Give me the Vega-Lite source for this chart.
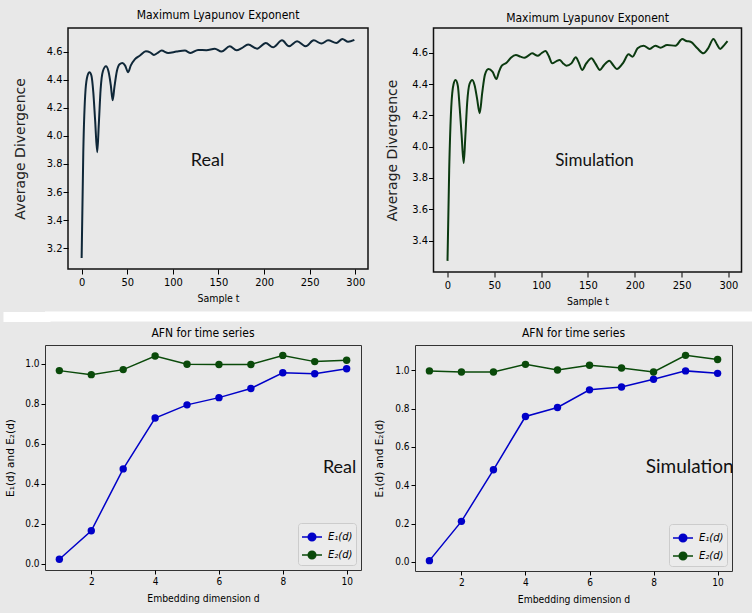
{
  "$schema": "https://vega.github.io/schema/vega-lite/v6.json",
  "background": "#e8e8e8",
  "padding": {"left": 0, "top": 8, "right": 8, "bottom": 12},
  "datasets": {
    "real": [
      {"t": 0, "v": 3.13}, {"t": 1.8, "v": 3.88}, {"t": 4.3, "v": 4.33}, {"t": 6.5, "v": 4.43}, {"t": 8.6, "v": 4.453},
      {"t": 10.7, "v": 4.43}, {"t": 12.8, "v": 4.31}, {"t": 14.8, "v": 4.11}, {"t": 17.1, "v": 3.883}, {"t": 18.8, "v": 4.08},
      {"t": 20.8, "v": 4.33}, {"t": 23.3, "v": 4.46}, {"t": 26.7, "v": 4.495}, {"t": 29.4, "v": 4.46}, {"t": 32, "v": 4.36},
      {"t": 34, "v": 4.253}, {"t": 36, "v": 4.35}, {"t": 38.6, "v": 4.46}, {"t": 41.6, "v": 4.51}, {"t": 44.6, "v": 4.519},
      {"t": 47.7, "v": 4.5}, {"t": 51, "v": 4.453}, {"t": 53.8, "v": 4.5}, {"t": 58.5, "v": 4.547}, {"t": 64, "v": 4.572},
      {"t": 70.4, "v": 4.602}, {"t": 75, "v": 4.595}, {"t": 79.2, "v": 4.576}, {"t": 83.2, "v": 4.59}, {"t": 87.6, "v": 4.607},
      {"t": 94.9, "v": 4.59}, {"t": 104, "v": 4.6}, {"t": 113.2, "v": 4.607}, {"t": 119.4, "v": 4.59}, {"t": 127.7, "v": 4.612},
      {"t": 136.8, "v": 4.61}, {"t": 146, "v": 4.62}, {"t": 153.3, "v": 4.6}, {"t": 162.4, "v": 4.638}, {"t": 169.8, "v": 4.61},
      {"t": 175.6, "v": 4.625}, {"t": 182.6, "v": 4.65}, {"t": 192.4, "v": 4.621}, {"t": 201.9, "v": 4.661}, {"t": 209.9, "v": 4.631},
      {"t": 219.7, "v": 4.68}, {"t": 227.4, "v": 4.638}, {"t": 236.2, "v": 4.673}, {"t": 245.6, "v": 4.638}, {"t": 254.5, "v": 4.68},
      {"t": 262.9, "v": 4.657}, {"t": 270.2, "v": 4.68}, {"t": 279.3, "v": 4.661}, {"t": 285.9, "v": 4.69}, {"t": 292.1, "v": 4.67},
      {"t": 299, "v": 4.683}
    ],
    "sim": [
      {"t": 0, "v": 3.27}, {"t": 1.8, "v": 3.85}, {"t": 4, "v": 4.25}, {"t": 6.5, "v": 4.4}, {"t": 8.6, "v": 4.426},
      {"t": 11, "v": 4.39}, {"t": 13, "v": 4.25}, {"t": 15, "v": 4.08}, {"t": 17.3, "v": 3.895}, {"t": 19, "v": 4.06},
      {"t": 21, "v": 4.28}, {"t": 23.5, "v": 4.4}, {"t": 26.5, "v": 4.426}, {"t": 29, "v": 4.39}, {"t": 31.5, "v": 4.31},
      {"t": 34.4, "v": 4.214}, {"t": 37, "v": 4.34}, {"t": 40, "v": 4.46}, {"t": 43.7, "v": 4.496}, {"t": 48, "v": 4.479},
      {"t": 52.3, "v": 4.432}, {"t": 55, "v": 4.48}, {"t": 58, "v": 4.517}, {"t": 63, "v": 4.536}, {"t": 67.7, "v": 4.568},
      {"t": 73, "v": 4.585}, {"t": 78, "v": 4.575}, {"t": 82, "v": 4.568}, {"t": 86, "v": 4.58}, {"t": 90.3, "v": 4.596},
      {"t": 96.4, "v": 4.581}, {"t": 100, "v": 4.595}, {"t": 104.7, "v": 4.611}, {"t": 108, "v": 4.58}, {"t": 111.9, "v": 4.532},
      {"t": 116, "v": 4.545}, {"t": 119.8, "v": 4.553}, {"t": 123, "v": 4.535}, {"t": 126.9, "v": 4.517}, {"t": 132.3, "v": 4.532},
      {"t": 137, "v": 4.571}, {"t": 140, "v": 4.54}, {"t": 143.8, "v": 4.49}, {"t": 148, "v": 4.53}, {"t": 153.8, "v": 4.564},
      {"t": 158, "v": 4.53}, {"t": 162.8, "v": 4.49}, {"t": 167, "v": 4.52}, {"t": 172.8, "v": 4.549}, {"t": 177, "v": 4.52},
      {"t": 180.7, "v": 4.496}, {"t": 187.9, "v": 4.539}, {"t": 193.3, "v": 4.59}, {"t": 197.6, "v": 4.575}, {"t": 203, "v": 4.628},
      {"t": 209.4, "v": 4.645}, {"t": 215.9, "v": 4.624}, {"t": 222, "v": 4.645}, {"t": 227.4, "v": 4.632}, {"t": 234.5, "v": 4.649},
      {"t": 243.5, "v": 4.645}, {"t": 250.7, "v": 4.687}, {"t": 255, "v": 4.675}, {"t": 259.6, "v": 4.67}, {"t": 266.8, "v": 4.628},
      {"t": 273.3, "v": 4.596}, {"t": 278.3, "v": 4.628}, {"t": 284, "v": 4.687}, {"t": 288, "v": 4.65}, {"t": 291.2, "v": 4.624},
      {"t": 295.5, "v": 4.649}, {"t": 299, "v": 4.674}
    ],
    "afn_real": [
      {"d": 1, "series": "E₁(d)", "value": 0.023}, {"d": 2, "series": "E₁(d)", "value": 0.165}, {"d": 3, "series": "E₁(d)", "value": 0.474},
      {"d": 4, "series": "E₁(d)", "value": 0.728}, {"d": 5, "series": "E₁(d)", "value": 0.794}, {"d": 6, "series": "E₁(d)", "value": 0.83},
      {"d": 7, "series": "E₁(d)", "value": 0.876}, {"d": 8, "series": "E₁(d)", "value": 0.954}, {"d": 9, "series": "E₁(d)", "value": 0.949},
      {"d": 10, "series": "E₁(d)", "value": 0.974},
      {"d": 1, "series": "E₂(d)", "value": 0.965}, {"d": 2, "series": "E₂(d)", "value": 0.945}, {"d": 3, "series": "E₂(d)", "value": 0.97},
      {"d": 4, "series": "E₂(d)", "value": 1.038}, {"d": 5, "series": "E₂(d)", "value": 0.997}, {"d": 6, "series": "E₂(d)", "value": 0.996},
      {"d": 7, "series": "E₂(d)", "value": 0.996}, {"d": 8, "series": "E₂(d)", "value": 1.041}, {"d": 9, "series": "E₂(d)", "value": 1.01},
      {"d": 10, "series": "E₂(d)", "value": 1.017}
    ],
    "afn_sim": [
      {"d": 1, "series": "E₁(d)", "value": 0.007}, {"d": 2, "series": "E₁(d)", "value": 0.212}, {"d": 3, "series": "E₁(d)", "value": 0.481},
      {"d": 4, "series": "E₁(d)", "value": 0.759}, {"d": 5, "series": "E₁(d)", "value": 0.806}, {"d": 6, "series": "E₁(d)", "value": 0.898},
      {"d": 7, "series": "E₁(d)", "value": 0.913}, {"d": 8, "series": "E₁(d)", "value": 0.953}, {"d": 9, "series": "E₁(d)", "value": 0.997},
      {"d": 10, "series": "E₁(d)", "value": 0.984},
      {"d": 1, "series": "E₂(d)", "value": 0.997}, {"d": 2, "series": "E₂(d)", "value": 0.991}, {"d": 3, "series": "E₂(d)", "value": 0.991},
      {"d": 4, "series": "E₂(d)", "value": 1.031}, {"d": 5, "series": "E₂(d)", "value": 1.002}, {"d": 6, "series": "E₂(d)", "value": 1.026},
      {"d": 7, "series": "E₂(d)", "value": 1.012}, {"d": 8, "series": "E₂(d)", "value": 0.991}, {"d": 9, "series": "E₂(d)", "value": 1.078},
      {"d": 10, "series": "E₂(d)", "value": 1.056}
    ],
    "strip": [{"k": "a"}]
  },
  "spacing": 2,
  "resolve": {"scale": {"color": "independent"}, "legend": {"color": "independent"}},
  "vconcat": [
    {
      "spacing": 0.5,
      "vconcat": [
        {
          "spacing": -34,
          "hconcat": [
            {"width": 1, "height": 1, "data": {"values": []}, "mark": "point", "view": {"stroke": null, "fill": null}},
            {
              "spacing": 15.5,
              "hconcat": [
                {
                  "width": 300, "height": 241,
                  "title": {"text": "Maximum Lyapunov Exponent", "font": "DejaVu Sans Condensed", "fontSize": 12, "fontWeight": "normal", "color": "#000", "offset": 6},
                  "view": {"stroke": "#111", "strokeWidth": 1.5, "fill": "#e8e8e8"},
                  "encoding": {
                    "x": {"field": "t", "type": "quantitative", "scale": {"domain": [-14.95, 313.95], "nice": false, "zero": false},
                      "axis": {"title": "Sample t", "values": [0, 50, 100, 150, 200, 250, 300], "labelFont": "DejaVu Sans Condensed", "labelFontSize": 11, "labelPadding": 2.5, "tickSize": 5, "titleFont": "DejaVu Sans Condensed", "titleFontSize": 10.5, "titlePadding": 6}},
                    "y": {"field": "v", "type": "quantitative", "scale": {"domain": [3.052, 4.768], "nice": false, "zero": false},
                      "axis": {"title": "Average Divergence", "values": [3.2, 3.4, 3.6, 3.8, 4.0, 4.2, 4.4, 4.6], "format": ".1f", "labelFont": "DejaVu Sans Condensed", "labelFontSize": 11, "labelPadding": 1, "tickSize": 5, "titleFont": "DejaVu Sans", "titleFontSize": 14, "titlePadding": 19, "titleColor": "#222"}}
                  },
                  "layer": [
                    {
                      "data": {"name": "real"},
                      "mark": {"type": "line", "color": "#0f2738", "strokeWidth": 2, "interpolate": "monotone"}
                    },
                    {
                      "data": {"values": [{"t": 138, "v": 3.82, "label": "Real"}]},
                      "mark": {"type": "text", "font": "Lato", "fontSize": 18, "color": "#111", "align": "center", "baseline": "middle"},
                      "encoding": {"text": {"field": "label"}}
                    }
                  ]
                },
                {
                  "width": 308, "height": 244,
                  "title": {"text": "Maximum Lyapunov Exponent", "font": "DejaVu Sans Condensed", "fontSize": 12, "fontWeight": "normal", "color": "#000", "offset": 3},
                  "view": {"stroke": "#111", "strokeWidth": 1.5, "fill": "#e8e8e8"},
                  "encoding": {
                    "x": {"field": "t", "type": "quantitative", "scale": {"domain": [-14.95, 313.95], "nice": false, "zero": false},
                      "axis": {"title": "Sample t", "values": [0, 50, 100, 150, 200, 250, 300], "labelFont": "DejaVu Sans Condensed", "labelFontSize": 11, "labelPadding": 2.5, "tickSize": 5, "titleFont": "DejaVu Sans Condensed", "titleFontSize": 10.5, "titlePadding": 6}},
                    "y": {"field": "v", "type": "quantitative", "scale": {"domain": [3.199, 4.758], "nice": false, "zero": false},
                      "axis": {"title": "Average Divergence", "values": [3.4, 3.6, 3.8, 4.0, 4.2, 4.4, 4.6], "format": ".1f", "labelFont": "DejaVu Sans Condensed", "labelFontSize": 11, "labelPadding": 1, "tickSize": 5, "titleFont": "DejaVu Sans", "titleFontSize": 14, "titlePadding": 12.5, "titleColor": "#222"}}
                  },
                  "layer": [
                    {
                      "data": {"name": "sim"},
                      "mark": {"type": "line", "color": "#0b3a10", "strokeWidth": 2, "interpolate": "monotone"}
                    },
                    {
                      "data": {"values": [{"t": 157, "v": 3.91, "label": "Simulation"}]},
                      "mark": {"type": "text", "font": "Lato", "fontSize": 17, "color": "#111", "align": "center", "baseline": "middle"},
                      "encoding": {"text": {"field": "label"}}
                    }
                  ]
                }
              ]
            }
          ]
        },
        {
          "width": 760, "height": 10,
          "data": {"name": "strip"},
          "mark": {"type": "point", "opacity": 0},
          "encoding": {"y": {"field": "k", "type": "nominal", "axis": {"title": null, "labels": false, "ticks": true, "tickSize": 37, "tickWidth": 10, "tickCap": "square", "tickColor": "#ffffff", "domain": false}}},
          "view": {"stroke": null, "fill": "#ffffff"}
        }
      ]
    },
    {
      "spacing": 11,
      "resolve": {"scale": {"color": "independent"}, "legend": {"color": "independent"}},
      "hconcat": [
        {
          "width": 316, "height": 225,
          "title": {"text": "AFN for time series", "font": "DejaVu Sans Condensed", "fontSize": 12, "fontWeight": "normal", "color": "#000", "offset": 5},
          "view": {"stroke": "#333", "strokeWidth": 1, "fill": "#e8e8e8"},
          "encoding": {
            "x": {"field": "d", "type": "quantitative", "scale": {"domain": [0.55, 10.45], "nice": false, "zero": false},
              "axis": {"title": "Embedding dimension d", "values": [2, 4, 6, 8, 10], "labelFont": "DejaVu Sans Condensed", "labelFontSize": 10, "labelPadding": 2, "tickSize": 4, "titleFont": "DejaVu Sans Condensed", "titleFontSize": 10.3, "titlePadding": 7}},
            "y": {"field": "value", "type": "quantitative", "scale": {"domain": [-0.031, 1.093], "nice": false, "zero": false},
              "axis": {"title": "E₁(d) and E₂(d)", "values": [0, 0.2, 0.4, 0.6, 0.8, 1.0], "format": ".1f", "labelFont": "DejaVu Sans Condensed", "labelFontSize": 10, "labelPadding": 2, "tickSize": 4, "titleFont": "DejaVu Sans", "titleFontSize": 10.5, "titlePadding": 9.2}}
          },
          "layer": [
            {
              "data": {"name": "afn_real"},
              "encoding": {
                "color": {"field": "series", "type": "nominal", "scale": {"domain": ["E₁(d)", "E₂(d)"], "range": ["#0000c8", "#0a4a0a"]},
                  "legend": {"orient": "bottom-right", "offset": 5, "title": null, "padding": 3, "rowPadding": 0, "symbolType": "M-1,0H1M-0.38,0A0.38,0.38,0,1,0,0.38,0A0.38,0.38,0,1,0,-0.38,0", "symbolSize": 400, "symbolStrokeWidth": 1.5, "labelFont": "DejaVu Sans", "labelFontStyle": "italic", "labelFontSize": 10, "labelOffset": 5, "fillColor": "#ebebeb", "strokeColor": "#cccccc", "cornerRadius": 3,
                    "encode": {"symbols": {"update": {"fill": [{"test": "datum.value === 'E₁(d)'", "value": "#0000c8"}, {"value": "#0a4a0a"}], "stroke": [{"test": "datum.value === 'E₁(d)'", "value": "#0000c8"}, {"value": "#0a4a0a"}], "fillOpacity": {"value": 1}, "strokeOpacity": {"value": 1}, "opacity": {"value": 1}}}}}}
              },
              "layer": [
                {"mark": {"type": "line", "strokeWidth": 1.5}},
                {"mark": {"type": "point", "filled": true, "size": 55, "opacity": 1}}
              ]
            },
            {
              "data": {"values": [{"d": 9.78, "value": 0.478, "label": "Real"}]},
              "mark": {"type": "text", "font": "Lato", "fontSize": 18, "color": "#111", "align": "center", "baseline": "middle"},
              "encoding": {"text": {"field": "label"}}
            }
          ]
        },
        {
          "width": 317, "height": 226,
          "title": {"text": "AFN for time series", "font": "DejaVu Sans Condensed", "fontSize": 12, "fontWeight": "normal", "color": "#000", "offset": 5},
          "view": {"stroke": "#333", "strokeWidth": 1, "fill": "#e8e8e8"},
          "encoding": {
            "x": {"field": "d", "type": "quantitative", "scale": {"domain": [0.55, 10.45], "nice": false, "zero": false},
              "axis": {"title": "Embedding dimension d", "values": [2, 4, 6, 8, 10], "labelFont": "DejaVu Sans Condensed", "labelFontSize": 10, "labelPadding": 2, "tickSize": 4, "titleFont": "DejaVu Sans Condensed", "titleFontSize": 10.3, "titlePadding": 7}},
            "y": {"field": "value", "type": "quantitative", "scale": {"domain": [-0.047, 1.132], "nice": false, "zero": false},
              "axis": {"title": "E₁(d) and E₂(d)", "values": [0, 0.2, 0.4, 0.6, 0.8, 1.0], "format": ".1f", "labelFont": "DejaVu Sans Condensed", "labelFontSize": 10, "labelPadding": 2, "tickSize": 4, "titleFont": "DejaVu Sans", "titleFontSize": 10.5, "titlePadding": 10.2}}
          },
          "layer": [
            {
              "data": {"name": "afn_sim"},
              "encoding": {
                "color": {"field": "series", "type": "nominal", "scale": {"domain": ["E₁(d)", "E₂(d)"], "range": ["#0000c8", "#0a4a0a"]},
                  "legend": {"orient": "bottom-right", "offset": 5, "title": null, "padding": 3, "rowPadding": 0, "symbolType": "M-1,0H1M-0.38,0A0.38,0.38,0,1,0,0.38,0A0.38,0.38,0,1,0,-0.38,0", "symbolSize": 400, "symbolStrokeWidth": 1.5, "labelFont": "DejaVu Sans", "labelFontStyle": "italic", "labelFontSize": 10, "labelOffset": 5, "fillColor": "#ebebeb", "strokeColor": "#cccccc", "cornerRadius": 3,
                    "encode": {"symbols": {"update": {"fill": [{"test": "datum.value === 'E₁(d)'", "value": "#0000c8"}, {"value": "#0a4a0a"}], "stroke": [{"test": "datum.value === 'E₁(d)'", "value": "#0000c8"}, {"value": "#0a4a0a"}], "fillOpacity": {"value": 1}, "strokeOpacity": {"value": 1}, "opacity": {"value": 1}}}}}}
              },
              "layer": [
                {"mark": {"type": "line", "strokeWidth": 1.5}},
                {"mark": {"type": "point", "filled": true, "size": 55, "opacity": 1}}
              ]
            },
            {
              "data": {"values": [{"d": 9.13, "value": 0.497, "label": "Simulation"}]},
              "mark": {"type": "text", "font": "Lato", "fontSize": 19, "color": "#111", "align": "center", "baseline": "middle"},
              "encoding": {"text": {"field": "label"}}
            }
          ]
        }
      ]
    }
  ],
  "config": {
    "view": {"fill": "#e8e8e8"},
    "axis": {"domain": false, "grid": false, "tickColor": "#000", "labelColor": "#000", "titleColor": "#000", "titleFontWeight": "normal", "labelFlush": false, "labelOverlap": false}
  }
}
